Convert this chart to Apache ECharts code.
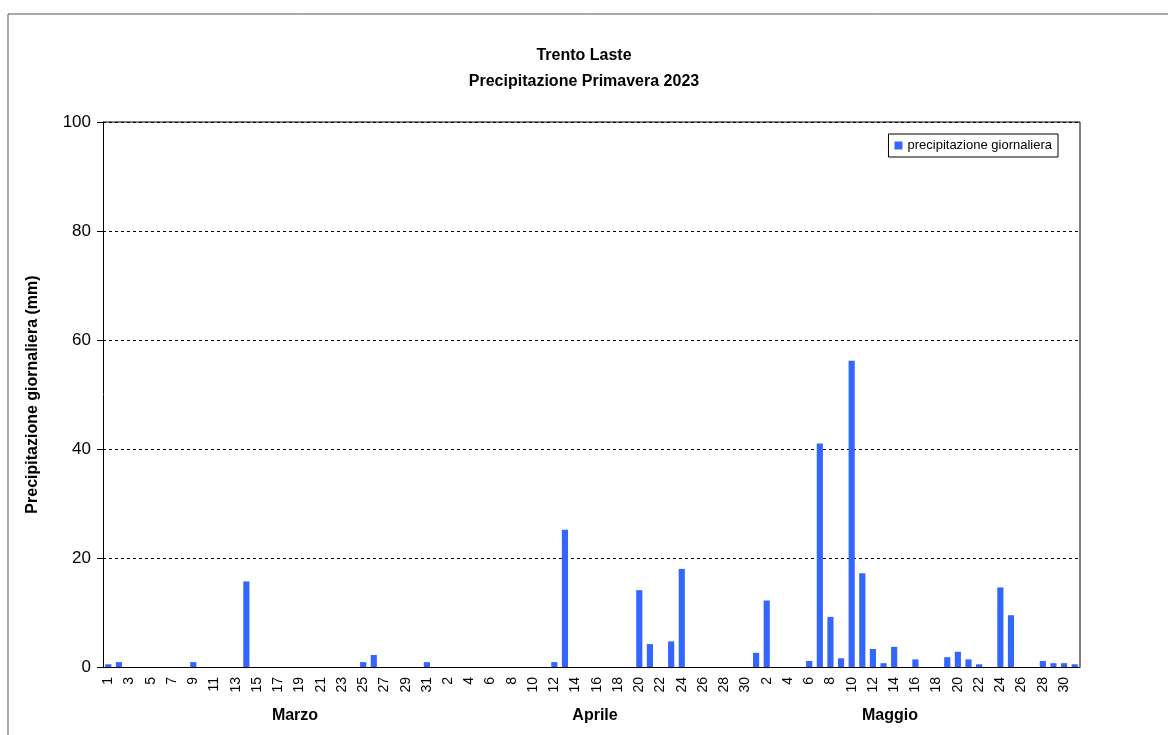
<!DOCTYPE html>
<html><head><meta charset="utf-8">
<script src="https://cdn.jsdelivr.net/npm/echarts@6/dist/echarts.min.js"></script>
<style>html,body{margin:0;padding:0;background:#fff}#c{width:1168px;height:735px}</style>
</head><body><div id="c"></div>
<script>
const marzo = [0.5,0.9,0,0,0,0,0,0,0.9,0,0,0,0,15.7,0,0,0,0,0,0,0,0,0,0,0.9,2.2,0,0,0,0,0.9];
const aprile = [0,0,0,0,0,0,0,0,0,0,0,0.9,25.2,0,0,0,0,0,0,14.1,4.2,0,4.7,18.0,0,0,0,0,0,0];
const maggio = [2.6,12.2,0,0,0,1.1,41.0,9.2,1.6,56.2,17.2,3.3,0.7,3.7,0,1.4,0,0,1.8,2.8,1.4,0.5,0,14.6,9.5,0,0,1.1,0.7,0.7,0.5];
const monthNames = ['Marzo','Aprile','Maggio'];
const yTicks = [0,20,40,60,80,100];
const seriesName = 'precipitazione giornaliera';

const cats = [], vals = [];
[marzo, aprile, maggio].forEach((m, mi) => m.forEach((v, i) => { cats.push(mi + '-' + (i + 1)); vals.push(v); }));

const chart = echarts.init(document.getElementById('c'));
const L = 103, R = 1080, T = 122, B = 667;
const monthX = [295, 595, 890];
const font = 'Liberation Sans, Arial, sans-serif';
chart.setOption({
  animation: false,
  title: {text: 'Trento Laste\nPrecipitazione Primavera 2023', left: 'center', top: 38,
    textStyle: {fontFamily: font, fontSize: 16, fontWeight: 'bold', color: '#000', lineHeight: 26}},
  legend: {data: [seriesName], right: 110, top: 134, itemWidth: 8, itemHeight: 8, borderColor: '#000', borderWidth: 1,
    borderRadius: 0, padding: [5, 6], itemGap: 4, icon: 'rect',
    textStyle: {fontFamily: font, fontSize: 13, color: '#000'}},
  grid: {left: L, right: 1168 - R, top: T, bottom: 735 - B},
  xAxis: {type: 'category', data: cats,
    axisLine: {lineStyle: {color: '#000'}}, axisTick: {interval: 0, length: 6, alignWithLabel: true, lineStyle: {color: '#000'}},
    axisLabel: {interval: 1, rotate: 90, color: '#000', fontFamily: font, fontSize: 14, margin: 10,
      formatter: v => v.split('-')[1]}},
  yAxis: {type: 'value', min: 0, max: 100, interval: 20, name: 'Precipitazione giornaliera (mm)',
    nameLocation: 'middle', nameGap: 62, nameTextStyle: {fontFamily: font, fontSize: 16, fontWeight: 'bold', color: '#000'},
    axisLine: {show: true, lineStyle: {color: '#000'}}, axisTick: {show: true, length: 6, lineStyle: {color: '#000'}},
    axisLabel: {color: '#000', fontFamily: font, fontSize: 17, margin: 12, formatter: v => yTicks.includes(v) ? v : ''},
    splitLine: {lineStyle: {color: '#000', type: [3, 3]}}},
  series: [{name: seriesName, type: 'bar', data: vals, barWidth: '58%', itemStyle: {color: '#3366FF'}}],
  graphic: [
    {type: 'rect', shape: {x: 8, y: 14, width: 1200, height: 800}, style: {fill: 'none', stroke: '#555', lineWidth: 1}},
    {type: 'line', shape: {x1: L, y1: T, x2: R, y2: T}, style: {stroke: '#000'}},
    {type: 'line', shape: {x1: R, y1: T, x2: R, y2: B}, style: {stroke: '#000'}},
    ...monthNames.map((n, i) => ({type: 'text', x: monthX[i], y: 716,
      style: {text: n, font: 'bold 16px ' + font, fill: '#000', align: 'center', verticalAlign: 'middle'}}))
  ]
});
</script></body></html>
